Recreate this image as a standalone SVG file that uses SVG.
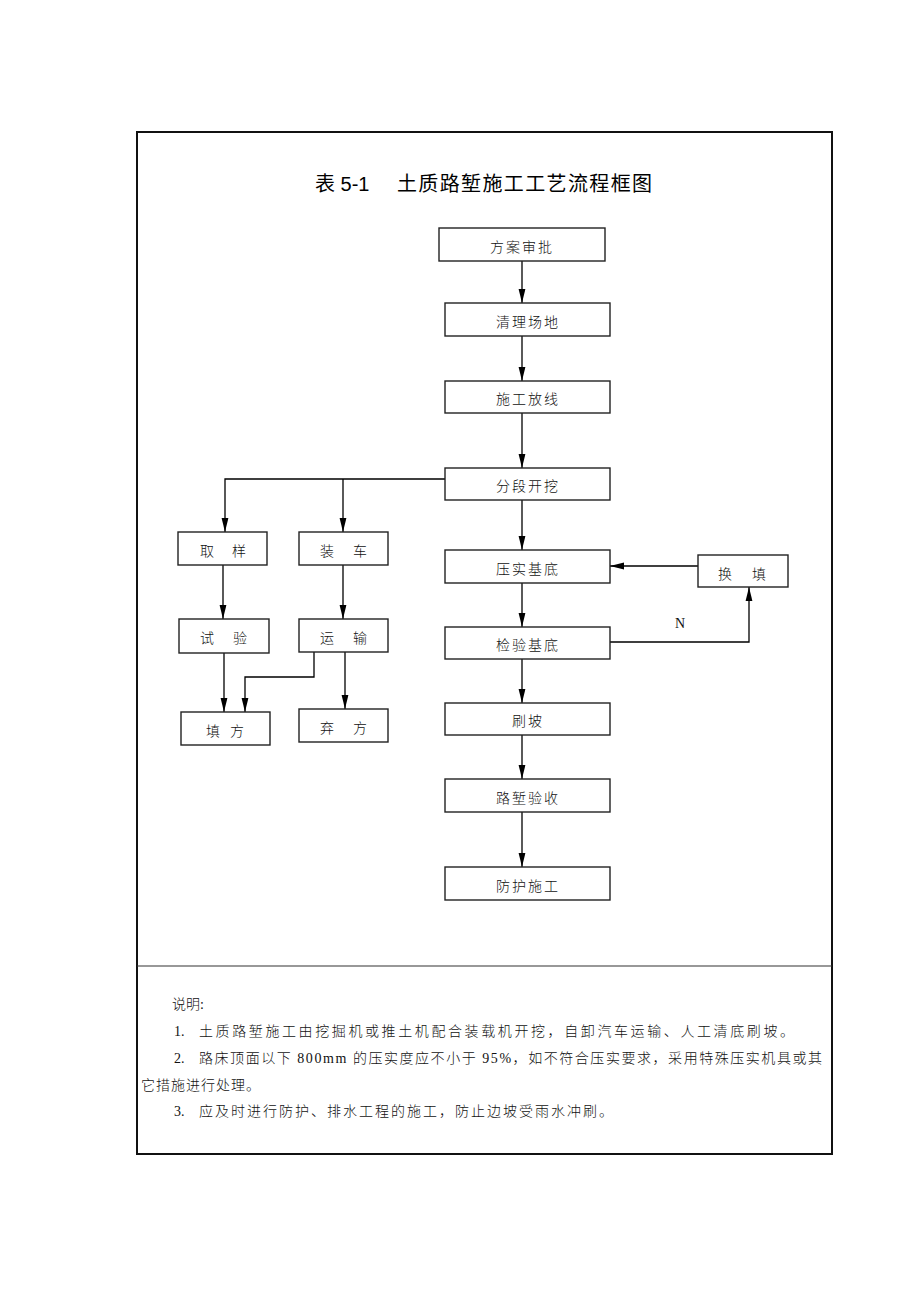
<svg xmlns="http://www.w3.org/2000/svg" width="920" height="1302" viewBox="0 0 920 1302">
<style>
.box{fill:#fff;stroke:#222;stroke-width:1.4}
.t{font-family:"Liberation Serif","Noto Sans CJK SC",serif;font-size:14px;font-weight:300;fill:#111;letter-spacing:2px}
.title{font-family:"Liberation Sans","Noto Sans CJK SC",sans-serif;font-size:20px;fill:#000}
.ln{fill:none;stroke:#000;stroke-width:1.3}
.note{font-family:"Liberation Serif","Noto Sans CJK SC",serif;font-size:14px;font-weight:300;fill:#111}
</style>
<defs>
<marker id="ah" markerWidth="14" markerHeight="8" refX="14" refY="4" orient="auto" markerUnits="userSpaceOnUse">
<path d="M0,0.6 L14,4 L0,7.4 Z" fill="#000"/>
</marker>
</defs>
<rect width="920" height="1302" fill="#fff"/>
<g id="frame">
<rect x="137" y="132" width="695" height="1022" fill="none" stroke="#111" stroke-width="2"/>
<line x1="137" y1="966" x2="832" y2="966" stroke="#333" stroke-width="1.2"/>
</g>
<g id="title">
<text class="title" x="315" y="191">表 5-1</text>
<text class="title" x="397" y="191" textLength="255" lengthAdjust="spacing">土质路堑施工工艺流程框图</text>
</g>
<g id="connectors">
<path class="ln" d="M522,261 V303" marker-end="url(#ah)"/>
<path class="ln" d="M522,336 V381" marker-end="url(#ah)"/>
<path class="ln" d="M522,413 V468" marker-end="url(#ah)"/>
<path class="ln" d="M522,500 V550" marker-end="url(#ah)"/>
<path class="ln" d="M522,583 V627" marker-end="url(#ah)"/>
<path class="ln" d="M522,659 V703" marker-end="url(#ah)"/>
<path class="ln" d="M522,735 V779" marker-end="url(#ah)"/>
<path class="ln" d="M522,812 V867" marker-end="url(#ah)"/>
<path class="ln" d="M445,479 H225 V532" marker-end="url(#ah)"/>
<path class="ln" d="M343,479 V532" marker-end="url(#ah)"/>
<path class="ln" d="M223,565 V619" marker-end="url(#ah)"/>
<path class="ln" d="M343,565 V619" marker-end="url(#ah)"/>
<path class="ln" d="M224,653 V712" marker-end="url(#ah)"/>
<path class="ln" d="M314,652 V677 H245 V712" marker-end="url(#ah)"/>
<path class="ln" d="M345,652 V709" marker-end="url(#ah)"/>
<path class="ln" d="M698,566 H610" marker-end="url(#ah)"/>
<path class="ln" d="M610,642 H749 V587" marker-end="url(#ah)"/>
<text class="t" x="675" y="628" style="letter-spacing:0">N</text>
</g>
<g id="n1"><rect class="box" x="439" y="228" width="166" height="33"/><text class="t" x="490" y="252">方案审批</text></g>
<g id="n2"><rect class="box" x="445" y="303" width="165" height="33"/><text class="t" x="496" y="327">清理场地</text></g>
<g id="n3"><rect class="box" x="445" y="381" width="165" height="32"/><text class="t" x="496" y="404">施工放线</text></g>
<g id="n4"><rect class="box" x="445" y="468" width="165" height="32"/><text class="t" x="496" y="491">分段开挖</text></g>
<g id="n5"><rect class="box" x="445" y="550" width="165" height="33"/><text class="t" x="496" y="574">压实基底</text></g>
<g id="n6"><rect class="box" x="445" y="627" width="165" height="32"/><text class="t" x="496" y="650">检验基底</text></g>
<g id="n7"><rect class="box" x="445" y="703" width="165" height="32"/><text class="t" x="512" y="726">刷坡</text></g>
<g id="n8"><rect class="box" x="445" y="779" width="165" height="33"/><text class="t" x="496" y="803">路堑验收</text></g>
<g id="n9"><rect class="box" x="445" y="867" width="165" height="33"/><text class="t" x="496" y="891">防护施工</text></g>
<g id="n10"><rect class="box" x="178" y="532" width="89" height="33"/><text class="t" x="200" y="556">取</text><text class="t" x="232" y="556">样</text></g>
<g id="n11"><rect class="box" x="299" y="532" width="89" height="33"/><text class="t" x="320" y="556">装</text><text class="t" x="353" y="556">车</text></g>
<g id="n12"><rect class="box" x="179" y="619" width="90" height="34"/><text class="t" x="200" y="643">试</text><text class="t" x="233" y="643">验</text></g>
<g id="n13"><rect class="box" x="299" y="619" width="89" height="33"/><text class="t" x="320" y="643">运</text><text class="t" x="353" y="643">输</text></g>
<g id="n14"><rect class="box" x="181" y="712" width="89" height="33"/><text class="t" x="206" y="736">填</text><text class="t" x="230" y="736">方</text></g>
<g id="n15"><rect class="box" x="299" y="709" width="89" height="33"/><text class="t" x="320" y="733">弃</text><text class="t" x="353" y="733">方</text></g>
<g id="n16"><rect class="box" x="698" y="555" width="90" height="32"/><text class="t" x="718" y="579">换</text><text class="t" x="752" y="579">填</text></g>
<g id="notes">
<text class="note" x="172" y="1009">说明:</text>
<text class="note" x="174" y="1036">1.</text>
<text class="note" x="199" y="1036" style="letter-spacing:2.6px">土质路堑施工由挖掘机或推土机配合装载机开挖，自卸汽车运输、人工清底刷坡。</text>
<text class="note" x="174" y="1063">2.</text>
<text class="note" x="199" y="1063" textLength="623" lengthAdjust="spacing">路床顶面以下 800mm 的压实度应不小于 95%，如不符合压实要求，采用特殊压实机具或其</text>
<text class="note" x="141" y="1090" style="letter-spacing:1px">它措施进行处理。</text>
<text class="note" x="174" y="1116">3.</text>
<text class="note" x="199" y="1116" style="letter-spacing:2px">应及时进行防护、排水工程的施工，防止边坡受雨水冲刷。</text>
</g>
</svg>
